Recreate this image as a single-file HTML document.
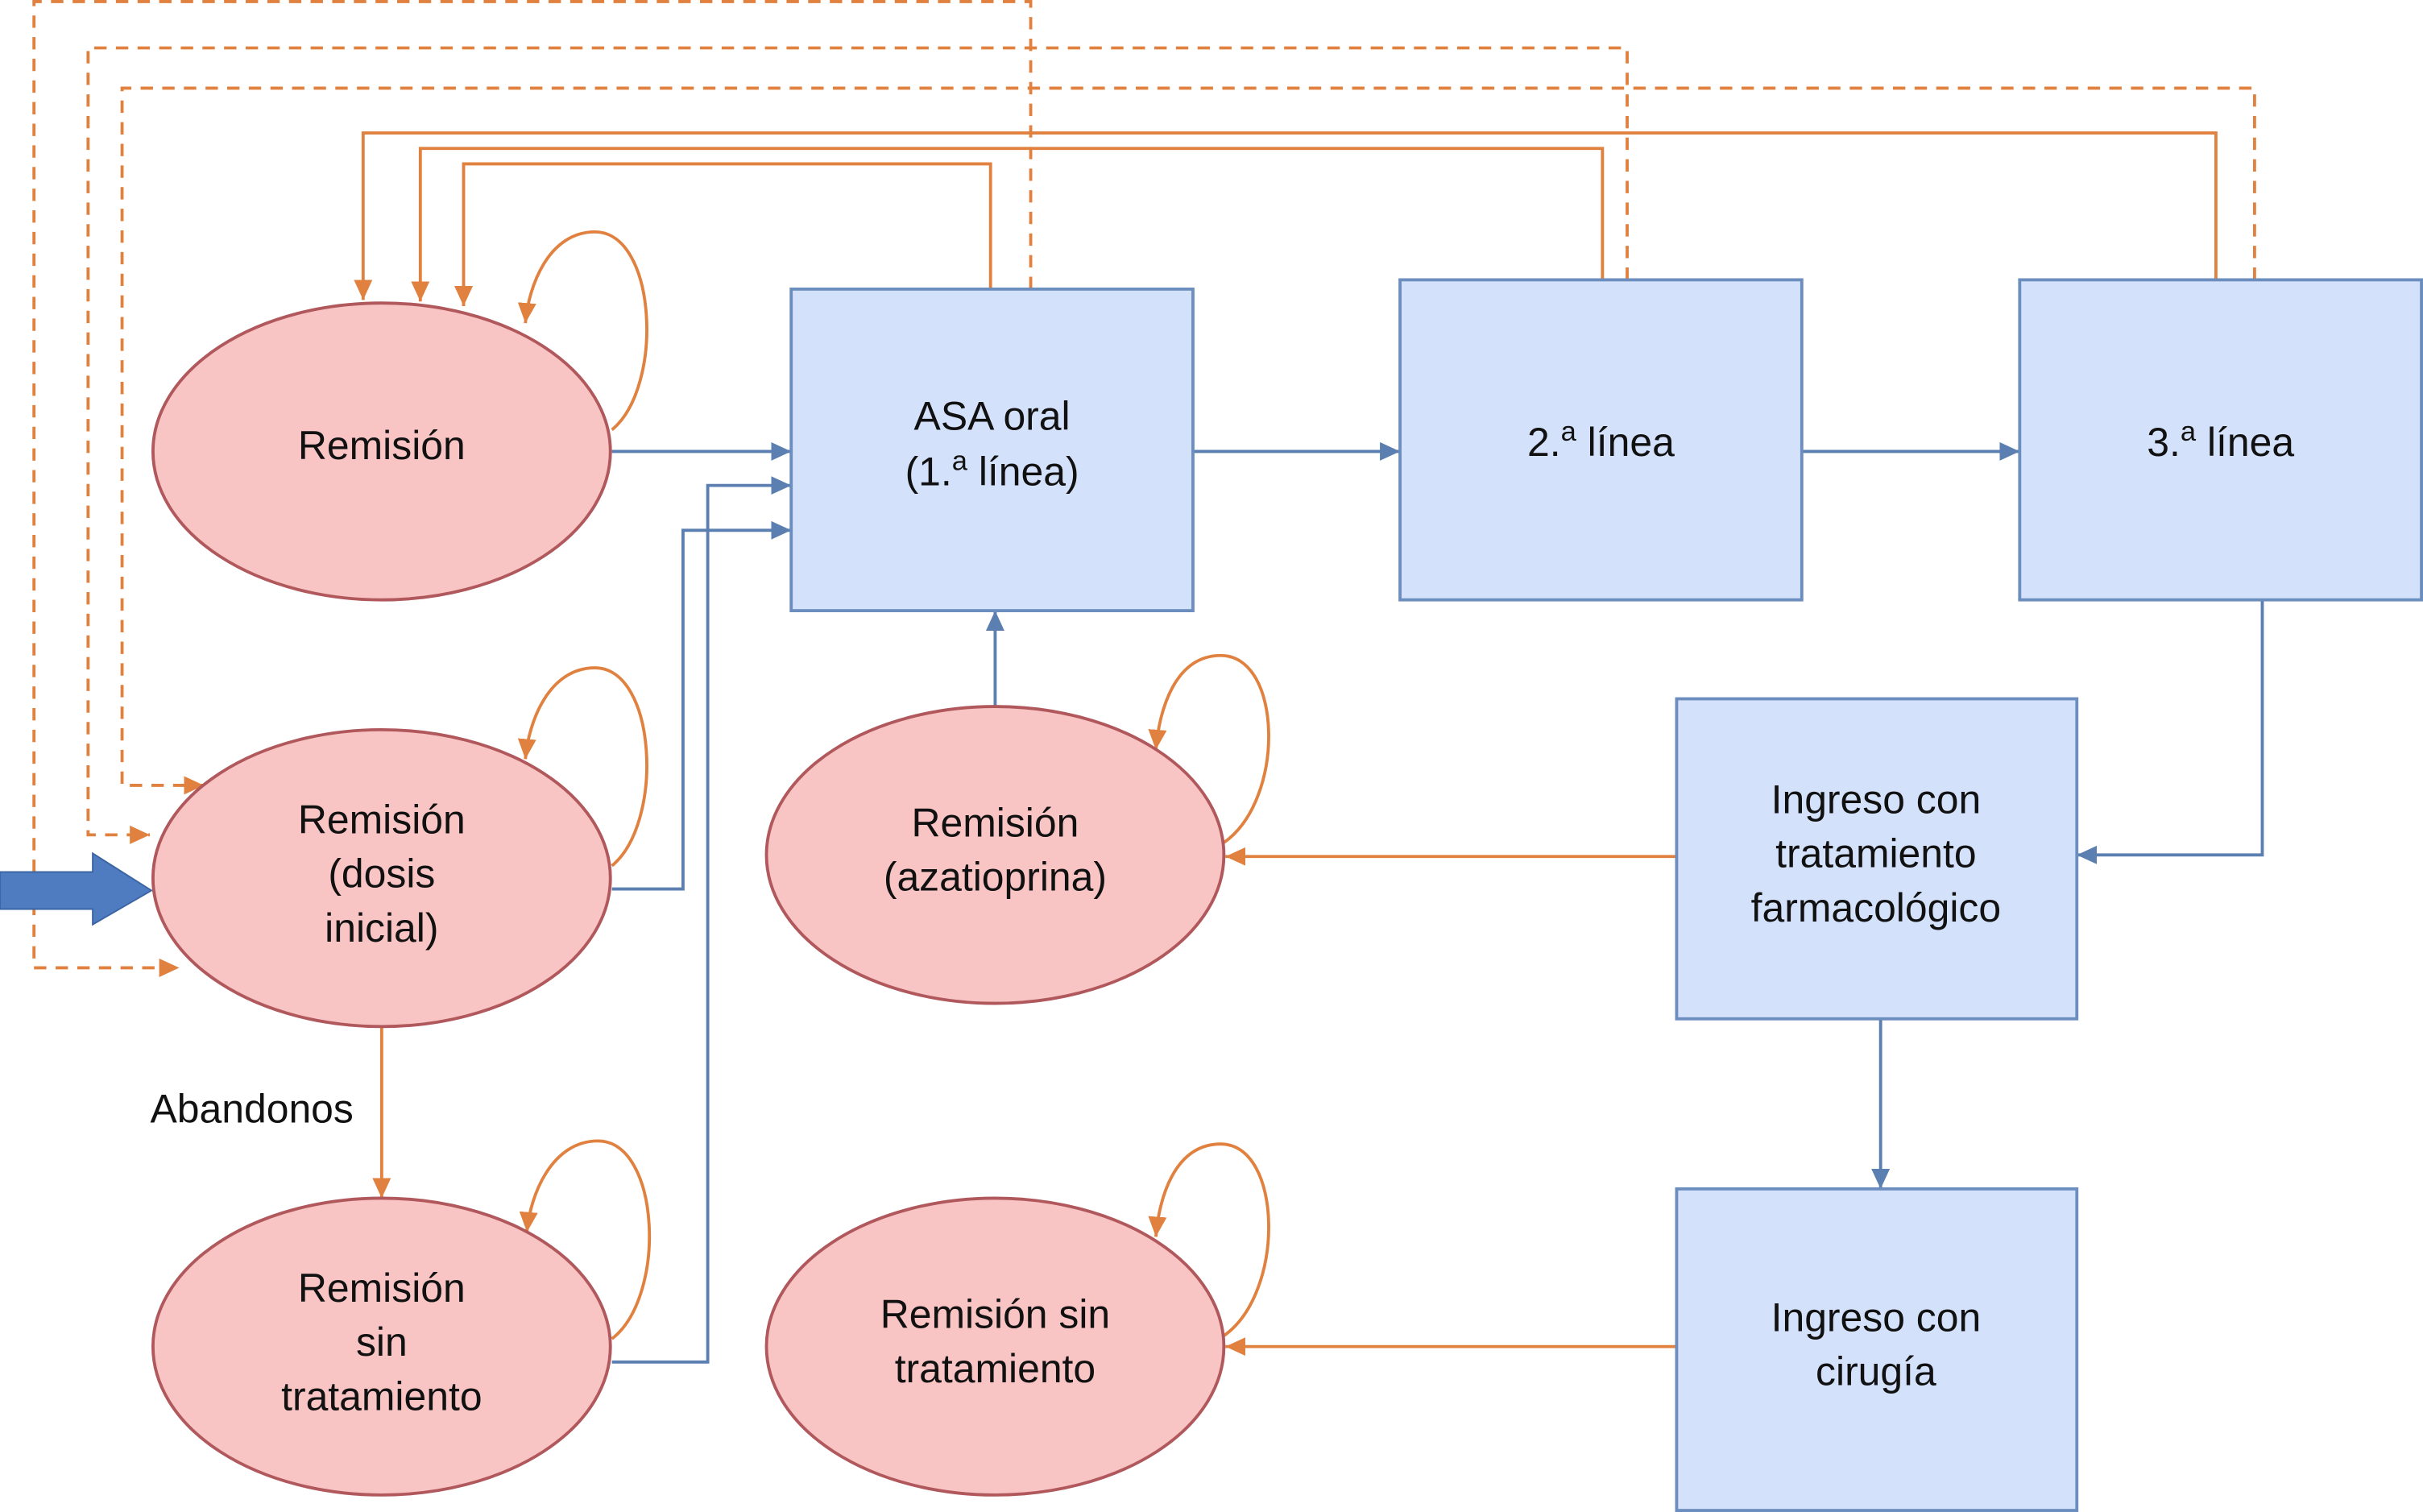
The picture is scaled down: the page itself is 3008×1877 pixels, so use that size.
<!DOCTYPE html>
<html><head><meta charset="utf-8"><style>
html,body{margin:0;padding:0;background:#fff;width:3008px;height:1877px;overflow:hidden}
svg{display:block}
text{font-family:"Liberation Sans",sans-serif;font-size:26px;fill:#111;text-anchor:middle}
</style></head><body>
<svg width="3008" height="1877" viewBox="0 0 1568 978" preserveAspectRatio="none" xmlns="http://www.w3.org/2000/svg">
<defs>
<marker id="ab" markerWidth="14" markerHeight="14" refX="13" refY="6" orient="auto" markerUnits="userSpaceOnUse"><path d="M0,0 L13,6 L0,12 Z" fill="#5a7fb0"/></marker>
<marker id="ao" markerWidth="14" markerHeight="14" refX="13" refY="6" orient="auto" markerUnits="userSpaceOnUse"><path d="M0,0 L13,6 L0,12 Z" fill="#e0813f"/></marker>
</defs>
<g fill="none" stroke-width="2">
<g stroke="#e0813f" stroke-dasharray="8,6">
<polyline points="667,187 667,1 22,1 22,626 116,626" marker-end="url(#ao)"/>
<polyline points="1053,181 1053,31 57,31 57,540 97,540" marker-end="url(#ao)"/>
<polyline points="1459,181 1459,57 79,57 79,508 132,508" marker-end="url(#ao)"/>
</g>
<g stroke="#e0813f">
<polyline points="641,187 641,106 300,106 300,198" marker-end="url(#ao)"/>
<polyline points="1037,181 1037,96 272,96 272,195" marker-end="url(#ao)"/>
<polyline points="1434,181 1434,86 235,86 235,194" marker-end="url(#ao)"/>
<line x1="1085" y1="554" x2="793" y2="554" marker-end="url(#ao)"/>
<line x1="1085" y1="871" x2="793" y2="871" marker-end="url(#ao)"/>
<line x1="247" y1="664" x2="247" y2="775" marker-end="url(#ao)"/>
<path d="M396,278 C430,250 425,150 385,150 C355,150 342,185 340,209" marker-end="url(#ao)"/>
<path d="M396,560 C430,532 425,432 385,432 C355,432 342,467 340,491" marker-end="url(#ao)"/>
<path d="M396,866 C432,838 427,738 387,738 C357,738 343,773 341,797" marker-end="url(#ao)"/>
<path d="M792,545 C832,517 830,424 790,424 C760,424 750,460 748,485" marker-end="url(#ao)"/>
<path d="M792,864 C832,836 830,740 790,740 C760,740 750,775 748,800" marker-end="url(#ao)"/>
</g>
<g stroke="#5a7fb0">
<line x1="396" y1="292" x2="512" y2="292" marker-end="url(#ab)"/>
<polyline points="396,575 442,575 442,343 512,343" marker-end="url(#ab)"/>
<polyline points="396,881 458,881 458,314 512,314" marker-end="url(#ab)"/>
<line x1="772" y1="292" x2="906" y2="292" marker-end="url(#ab)"/>
<line x1="1166" y1="292" x2="1307" y2="292" marker-end="url(#ab)"/>
<polyline points="1464,388 1464,553 1344,553" marker-end="url(#ab)"/>
<line x1="1217" y1="659" x2="1217" y2="769" marker-end="url(#ab)"/>
<line x1="644" y1="457" x2="644" y2="395" marker-end="url(#ab)"/>
</g>
</g>
<path d="M0,564 L60,564 L60,552 L98,576 L60,598 L60,588 L0,588 Z" fill="#4f7cc0" stroke="#3b64a3" stroke-width="1"/>
<g fill="#f8c4c4" stroke="#b0585c" stroke-width="2">
<ellipse cx="247" cy="292" rx="148" ry="96"/>
<ellipse cx="247" cy="568" rx="148" ry="96"/>
<ellipse cx="247" cy="871" rx="148" ry="96"/>
<ellipse cx="644" cy="553" rx="148" ry="96"/>
<ellipse cx="644" cy="871" rx="148" ry="96"/>
</g>
<g fill="#d4e1fb" stroke="#6c8ebf" stroke-width="2">
<rect x="512" y="187" width="260" height="208"/>
<rect x="906" y="181" width="260" height="207"/>
<rect x="1307" y="181" width="260" height="207"/>
<rect x="1085" y="452" width="259" height="207"/>
<rect x="1085" y="769" width="259" height="208"/>
</g>
<text x="247" y="297">Remisión</text>
<text x="247" y="539">Remisión</text>
<text x="247" y="574">(dosis</text>
<text x="247" y="609">inicial)</text>
<text x="247" y="842">Remisión</text>
<text x="247" y="877">sin</text>
<text x="247" y="912">tratamiento</text>
<text x="644" y="541">Remisión</text>
<text x="644" y="576">(azatioprina)</text>
<text x="644" y="859">Remisión sin</text>
<text x="644" y="894">tratamiento</text>
<text x="163" y="726">Abandonos</text>
<text x="642" y="278">ASA oral</text>
<text x="642" y="314">(1.<tspan font-size="18" dy="-10">a</tspan><tspan dy="10"> línea)</tspan></text>
<text x="1036" y="295">2.<tspan font-size="18" dy="-10">a</tspan><tspan dy="10"> línea</tspan></text>
<text x="1437" y="295">3.<tspan font-size="18" dy="-10">a</tspan><tspan dy="10"> línea</tspan></text>
<text x="1214" y="526">Ingreso con</text>
<text x="1214" y="561">tratamiento</text>
<text x="1214" y="596">farmacológico</text>
<text x="1214" y="861">Ingreso con</text>
<text x="1214" y="896">cirugía</text>
</svg>
</body></html>
